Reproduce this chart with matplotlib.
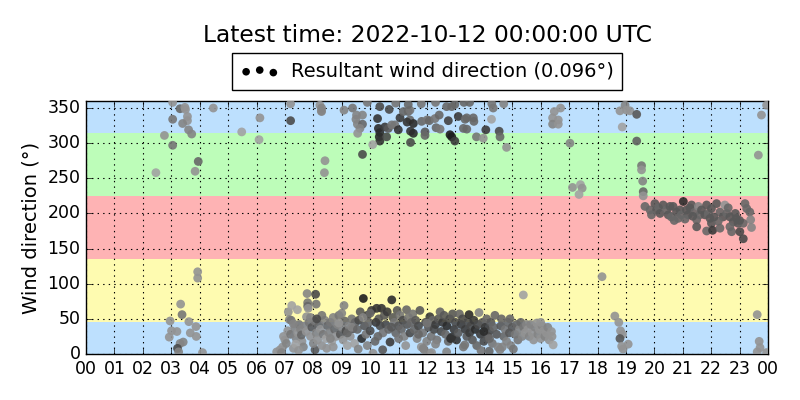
import matplotlib
matplotlib.use("Agg")
import matplotlib.pyplot as plt
import numpy as np
from matplotlib.colors import LinearSegmentedColormap

# ---------------- data (hour of day, direction deg, relative speed shade) ----------------
early_h = [3.05,3.31,3.48,3.50,4.48,3.05,3.57,3.57,3.40,3.61,3.72,2.76,3.05,3.95,3.84,2.46,5.48,6.12,6.09,7.2,7.2,8.23,8.28,8.41,8.39,
           3.93,3.93,3.33,3.38,2.96,3.62,3.87,3.01,3.2,2.93,3.67,3.88,3.42,3.31,3.22,3.26,4.1]
early_d = [358,349,351,348,350,334,338,332,328,319,313,311,297,274,260,258,316,336,305,356,332,354,346,275,258,
           117,108,71,56,47,46,39,33,32,24,30,25,17,15,8,3,2]
early_s = [.2,.5,.2,.2,.2,.4,.2,.2,.3,.3,.3,.2,.4,.5,.2,.1,.1,.2,.1,.2,.7,.2,.2,.2,.2,
           .2,.2,.2,.4,.2,.2,.2,.2,.2,.2,.2,.2,.3,.3,.7,.3,.2]

north_h = [8.29,8.29,9.08,9.38,9.52,9.73,9.5,9.55,9.73,9.64,9.56,10.34,10.67,10.26,10.29,10.34,10.32,10.34,10.52,10.64,10.58,10.09,9.73,
           10.76,10.87,10.99,11.05,11.17,11.34,11.4,11.4,11.3,11.52,11.42,11.52,11.42,11.34,11.81,12.0,12.08,11.93,11.93,12.28,12.43,12.32,
           12.46,12.75,12.81,12.87,12.98,12.69,12.87,12.98,13.1,13.34,13.4,13.28,13.4,13.63,13.65,13.74,13.98,14.07,14.27,14.33,14.28,14.54,
           14.57,14.8,13.3,13.5,9.9,10.9,12.3,14.7,11.8]
north_d = [350,345,347,350,340,340,334,327,327,321,314,352,348,335,321,315,309,303,323,321,309,298,284,
           326,326,319,336,345,345,347,333,330,328,317,314,301,355,331,333,332,316,311,335,340,322,
           320,332,312,309,303,352,352,355,338,334,336,321,320,336,331,309,307,319,334,350,356,317,
           309,294,358,358,358,357,358,356,356]
north_s = [.3,.3,.3,.4,.3,.3,.3,.3,.5,.3,.2,.7,.7,.85,.9,.9,.9,.85,.8,.6,.7,.1,.7,
           .4,.4,.85,.8,.5,.5,.4,.5,.85,.9,.85,.9,.7,.5,.5,.4,.5,.6,.5,.4,.5,.5,
           .4,.75,1.0,1.0,.8,.5,.5,.5,.8,.5,.5,.5,.5,.5,.5,.4,.2,.8,.1,.4,.4,.7,
           .5,.2,.5,.5,.4,.4,.4,.3,.4]

late_h = [16.7,16.48,16.42,16.62,16.42,16.62,17.03,17.12,17.4,17.46,17.35,18.79,18.97,19.02,19.14,19.38,18.87,19.38,19.55,19.55,19.59,
          19.61,19.61,23.66,23.77,23.95,18.61,18.75,18.81,18.88,18.79,18.85,18.9,19.08,18.16,23.62,23.69,23.72,23.62,23.95,15.39]
late_d = [350,345,336,333,327,327,300,237,241,236,227,346,354,347,346,341,323,303,268,262,246,
          231,225,283,340,354,54,45,33,28,22,11,7,14,110,56,18,9,3,2,84]
late_s = [.2,.2,.2,.2,.3,.2,.3,.2,.1,.2,.1,.2,.3,.2,.2,.6,.1,.55,.4,.2,.3,
          .5,.2,.2,.2,.2,.2,.2,.2,.2,.6,.2,.2,.2,.2,.2,.2,.2,.2,.2,.1]

day_h = [6.71,6.83,6.92,6.88,7.0,6.95,7.05,7.12,7.24,7.44,7.16,7.22,7.3,7.1,7.2,7.35,7.4,7.45,7.5,7.55,7.6,7.65,7.3,7.38,7.48,7.58,
         7.78,8.08,7.8,7.8,8.1,7.82,7.76,8.06,7.7,7.75,7.85,7.9,7.95,8.0,8.05,8.1,8.15,8.2,8.25,8.3,8.35,8.4,8.45,8.47,8.5,7.9,8.3,8.12,
         8.55,8.6,8.65,8.7,8.75,8.8,8.85,8.9,8.95,9.0,9.05,9.08,9.1,9.15,9.2,9.25,9.3,9.35,9.4,9.45,9.47,8.7,9.0,9.2,9.35,8.9,8.6,
         9.58,9.55,9.6,9.7,9.76,9.65,9.8,9.85,9.9,9.95,10.0,10.05,10.1,10.17,10.23,10.3,10.35,10.4,10.44,10.45,10.5,9.75,10.2,9.9,10.0,10.27,
         10.55,10.6,10.65,10.7,10.76,10.8,10.85,10.9,10.95,11.0,11.05,11.1,11.15,11.2,11.28,11.3,11.35,11.4,11.45,11.5,10.75,11.0,11.25,
         11.55,11.6,11.65,11.7,11.75,11.8,11.85,11.87,11.9,11.95,11.99,12.05,12.1,12.1,12.15,12.16,12.2,12.25,12.3,12.35,12.4,12.46,12.5,11.7,12.0,12.3,
         12.55,12.6,12.65,12.69,12.7,12.75,12.8,12.83,12.87,12.9,12.95,13.0,13.04,13.1,13.14,13.2,13.25,13.28,13.33,13.35,13.4,13.45,13.48,13.5,
         13.55,13.6,13.65,13.7,13.75,13.8,13.83,13.88,13.95,14.0,14.05,14.1,14.15,14.19,14.2,14.25,14.3,14.35,14.39,14.45,14.5,13.9,14.0,14.2,
         14.57,14.6,14.62,14.7,14.75,14.8,14.85,14.9,14.92,14.95,15.04,15.0,15.1,15.15,15.2,15.25,15.3,15.35,15.4,15.45,15.5,14.65,
         15.55,15.6,15.65,15.7,15.75,15.8,15.86,15.9,15.95,16.0,16.05,16.1,16.15,16.2,16.25,16.3,16.38,16.44,16.4,16.0]
day_d = [3,6,10,2,20,25,15,60,69,63,49,48,8,33,28,38,22,30,42,35,18,10,43,14,5,27,
         86,85,73,68,71,65,53,6,40,32,45,25,38,15,47,30,20,42,35,12,28,48,22,8,40,52,55,50,
         30,45,18,52,35,25,42,55,28,38,20,69,47,33,12,40,25,50,36,15,45,10,58,30,38,44,22,
         7,35,48,22,79,60,40,28,55,45,33,62,1,18,65,50,40,65,6,30,55,52,45,12,58,25,
         42,60,35,17,77,52,45,30,62,40,55,35,48,25,63,42,52,30,45,57,38,22,12,
         35,48,22,40,62,10,30,8,6,45,18,38,53,1,25,2,48,35,42,20,50,60,32,28,44,14,
         45,55,28,3,40,18,50,22,24,57,35,45,20,30,57,42,50,10,13,35,25,45,56,30,
         40,20,48,35,12,42,59,28,45,18,38,50,25,4,33,45,15,38,55,28,10,5,32,22,
         6,40,50,25,35,18,45,30,50,12,7,38,28,42,20,35,45,25,38,30,42,10,
         35,25,42,30,20,38,44,28,35,22,40,33,25,30,38,20,32,13,25,45]
day_s = [.2,.2,.2,.3,.2,.2,.3,.2,.1,.1,.3,.4,.2,.2,.4,.3,.3,.2,.4,.3,.2,.3,.3,.1,.2,.5,
         .3,.7,.4,.5,.4,.2,.2,.6,.3,.2,.4,.2,.6,.3,.4,.3,.2,.5,.2,.2,.4,.3,.1,.2,.5,.3,.4,.7,
         .3,.4,.1,.3,.5,.2,.3,.4,.6,.3,.2,.3,.5,.7,.1,.3,.2,.4,.6,.1,.5,.2,.3,.5,.3,.2,.3,
         .3,.5,.7,.9,1.0,.6,.6,.4,.8,.5,.7,.8,.2,.5,.85,.6,.7,.85,.6,.4,.6,.3,.8,.3,.5,.5,
         .7,.8,.5,.8,.9,.6,.4,.5,.6,.6,.4,.5,.7,.3,.5,.6,.4,.7,.5,.4,.6,.4,.2,
         .5,.6,.3,.7,.6,.2,.4,.3,.3,.7,.3,.6,.8,.3,.4,.2,.5,.7,.8,.4,.6,.5,.7,.5,.4,.3,
         .8,.6,.5,.3,.9,.5,.7,.9,.85,.6,.8,.7,.85,.6,.5,.8,.7,.4,.4,.8,.6,.7,.9,.8,
         .7,.6,.8,.9,.5,.7,.3,.8,.6,.7,.8,.5,.6,.5,.7,.6,.4,.5,.5,.6,.3,.4,.9,.5,
         .3,.6,.5,.5,.4,.3,.5,.6,.5,.3,.4,.6,.4,.5,.4,.3,.5,.3,.4,.2,.3,.3,
         .2,.3,.3,.2,.2,.3,.2,.3,.2,.2,.3,.2,.3,.2,.3,.2,.2,.1,.2,.2]

eve_h = [19.67,19.85,20.02,20.08,19.9,20.15,20.2,20.31,20.43,20.49,20.55,20.6,20.66,20.78,20.84,20.9,20.95,21.02,21.13,21.19,21.08,21.25,
         21.31,21.43,21.49,21.49,21.55,21.6,21.66,21.78,21.84,21.9,22.01,22.19,21.96,22.01,21.84,22.05,22.31,22.42,22.25,22.48,22.31,22.55,
         22.66,22.78,22.66,22.72,22.89,22.95,23.01,23.13,23.19,23.25,23.36,23.39,23.42,23.13,22.6,22.85,21.35,20.7,22.1,23.0]
eve_d = [210,205,214,205,198,208,200,212,205,198,210,195,210,202,193,205,198,217,205,198,192,208,
         212,202,191,181,210,198,205,198,212,200,207,214,193,186,175,176,202,195,189,212,179,200,
         195,188,181,174,193,186,174,164,214,207,202,191,180,186,208,200,196,190,195,190]
eve_s = [.5,.5,.6,.6,.5,.5,.6,.6,.5,.6,.6,.5,.6,.6,.5,.6,.5,.9,.6,.6,.5,.6,
         .6,.5,.5,.6,.3,.5,.6,.6,.6,.5,.6,.6,.6,.6,.5,.8,.5,.6,.5,.2,.5,.5,
         .6,.6,.5,.5,.6,.6,.7,.7,.5,.5,.5,.3,.3,.5,.5,.6,.6,.5,.6,.6]

hour_ticks = list(range(25))
hour_labels = ["%02d" % (h % 24) for h in hour_ticks]
dir_ticks = [0, 50, 100, 150, 200, 250, 300, 350]

bands = [(0, 45, "#bde0fe"), (45, 135, "#fefbb0"), (135, 225, "#feb3b4"),
         (225, 315, "#bdfdb9"), (315, 360, "#bde0fe")]

title = "Latest time: 2022-10-12 00:00:00 UTC"
legend_label = "Resultant wind direction (0.096°)"

# ---------------- plot ----------------
plt.style.use("classic")
fig = plt.figure(figsize=(8, 4), dpi=100, facecolor="white")
ax = fig.add_axes([0.1075, 0.115, 0.8525, 0.6325])

for lo, hi, col in bands:
    ax.axhspan(lo, hi, color=col, zorder=0, lw=0)

hours = np.array(early_h + north_h + late_h + day_h + eve_h)
dirs = np.array(early_d + north_d + late_d + day_d + eve_d)
spd = np.array(early_s + north_s + late_s + day_s + eve_s)

cmap = LinearSegmentedColormap.from_list("g", ["#b0b0b0", "#1e1e1e"])
ax.scatter(hours, dirs, c=spd, cmap=cmap, vmin=0, vmax=1, s=40,
           edgecolors="none", alpha=0.9, zorder=3)
ax.scatter([np.nan], [np.nan], c="k", s=30, edgecolors="none", label=legend_label)

ax.set_xlim(0, 24)
ax.set_ylim(0, 360)
ax.set_xticks(hour_ticks)
ax.set_xticklabels(hour_labels, fontsize=12.5)
ax.set_yticks(dir_ticks)
ax.tick_params(axis="y", labelsize=12.5)
ax.grid(True, color="black", linestyle=":", linewidth=0.8, zorder=1)
ax.set_axisbelow(False)
ax.set_ylabel("Wind direction (°)", fontsize=14)

ax.legend(loc="lower center", bbox_to_anchor=(0.5, 1.045), scatterpoints=3,
          fontsize=14, borderaxespad=0, handletextpad=0.6, borderpad=0.45)
ax.text(0.5, 1.26, title, transform=ax.transAxes, ha="center", va="center", fontsize=16.8)

fig.savefig("out.png", dpi=100, facecolor="white")
